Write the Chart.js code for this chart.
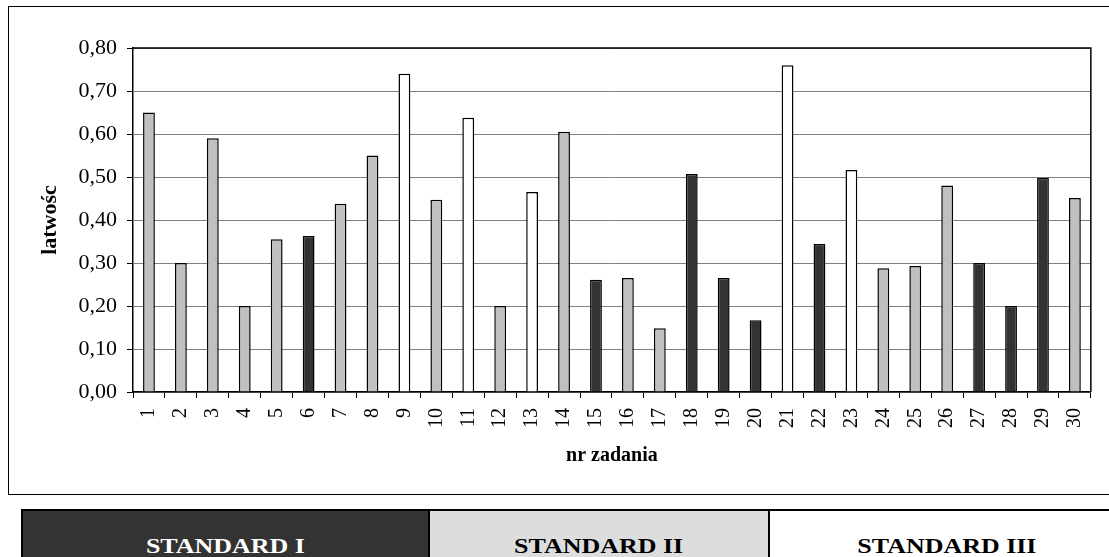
<!DOCTYPE html>
<html>
<head>
<meta charset="utf-8">
<script src="https://cdn.jsdelivr.net/npm/chart.js@4.4.1/dist/chart.umd.min.js"></script>
<style>
  body { margin: 0; width: 1109px; height: 557px; overflow: hidden; background: #fff; position: relative; font-family: "Liberation Serif", serif; }
  #frame { position: absolute; left: 8px; top: 6px; width: 1110px; height: 487px; border: 1.5px solid #000; }
  #wrap { position: absolute; left: 0; top: 0; width: 1109px; height: 500px; }
  #legend { position: absolute; left: 21px; top: 509px; width: 1100px; height: 70px; border: 2px solid #000; display: flex; }
  #legend div { height: 100%; text-align: center; font-weight: bold; font-size: 22px; line-height: 22px; padding-top: 24px; box-sizing: border-box; }
  #legend span { display: inline-block; transform: scaleX(1.18); }
  #legend .s1 { width: 405px; background: #333333; color: #fff; }
  #legend .s2 { width: 340px; background: #dddddd; color: #000; border-left: 2px solid #000; }
  #legend .s3 { flex: 1; background: #fff; color: #000; border-left: 2px solid #000; }
</style>
</head>
<body>
<div id="frame"></div>
<div id="wrap"><canvas id="myChart"></canvas></div>
<div id="legend">
  <div class="s1"><span>STANDARD I</span></div>
  <div class="s2"><span>STANDARD II</span></div>
  <div class="s3"><span>STANDARD III</span></div>
</div>
<script>
// data block
const tasks = ['1','2','3','4','5','6','7','8','9','10','11','12','13','14','15',
               '16','17','18','19','20','21','22','23','24','25','26','27','28','29','30'];
const easiness = [0.65, 0.30, 0.59, 0.20, 0.355, 0.363, 0.438, 0.55, 0.74, 0.447,
                  0.638, 0.20, 0.465, 0.605, 0.261, 0.265, 0.148, 0.507, 0.265, 0.167,
                  0.76, 0.344, 0.516, 0.288, 0.293, 0.48, 0.30, 0.20, 0.498, 0.451];
// which standard each task belongs to (1, 2, 3)
const standard = [2, 2, 2, 2, 2, 1, 2, 2, 3, 2,
                  3, 2, 3, 2, 1, 2, 2, 1, 1, 1,
                  3, 1, 3, 2, 2, 2, 1, 1, 1, 2];
const yTicks = [0, 0.1, 0.2, 0.3, 0.4, 0.5, 0.6, 0.7, 0.8];

const standardColors = { 1: '#333333', 2: '#c0c0c0', 3: '#ffffff' };
const serif = '"Liberation Serif", "Times New Roman", serif';

// top + right edge of the plot area
const plotFrame = {
  id: 'plotFrame',
  afterDraw(chart) {
    const {ctx, chartArea: {left, top, right, bottom}} = chart;
    ctx.save();
    ctx.strokeStyle = '#000';
    ctx.lineWidth = 1.5;
    ctx.beginPath();
    ctx.moveTo(left, top);
    ctx.lineTo(right, top);
    ctx.lineTo(right, bottom);
    ctx.stroke();
    ctx.restore();
  }
};

const data = {
  labels: tasks,
  datasets: [{
    data: easiness,
    backgroundColor: standard.map(s => standardColors[s]),
    borderColor: '#000',
    borderWidth: 1.5,
    barPercentage: 0.37,
    categoryPercentage: 1
  }]
};

const config = {
  type: 'bar',
  data,
  options: {
    responsive: true,
    maintainAspectRatio: false,
    animation: false,
    layout: { padding: { top: 48, right: 6, left: 0, bottom: 0 } },
    plugins: {
      legend: { display: false },
      tooltip: { enabled: false }
    },
    scales: {
      x: {
        afterFit(scale) { scale.height = 108; },
        grid: { offset: true, drawOnChartArea: false, color: '#000', tickColor: '#000', tickLength: 6 },
        border: { color: '#000', width: 1.5 },
        ticks: { autoSkip: false, minRotation: 90, maxRotation: 90, padding: 10, color: '#000', font: { family: serif, size: 20 } },
        title: { display: true, text: 'nr zadania', color: '#000', padding: 32, font: { family: serif, size: 20, weight: 'bold' } }
      },
      y: {
        min: 0,
        max: 0.8,
        afterFit(scale) { scale.width = 133; },
        afterBuildTicks(scale) { scale.ticks = yTicks.map(v => ({ value: v })); },
        grid: { color: '#808080', lineWidth: 1, tickColor: '#000', tickLength: 6 },
        border: { color: '#000', width: 1.5 },
        ticks: {
          padding: 10,
          color: '#000',
          font: { family: serif, size: 22 },
          callback: v => v.toFixed(2).replace('.', ',')
        },
        title: { display: true, text: 'latwośc', color: '#000', padding: 37, font: { family: serif, size: 22, weight: 'bold' } }
      }
    }
  },
  plugins: [plotFrame]
};

const myChart = new Chart(document.getElementById('myChart'), config);
</script>
</body>
</html>
